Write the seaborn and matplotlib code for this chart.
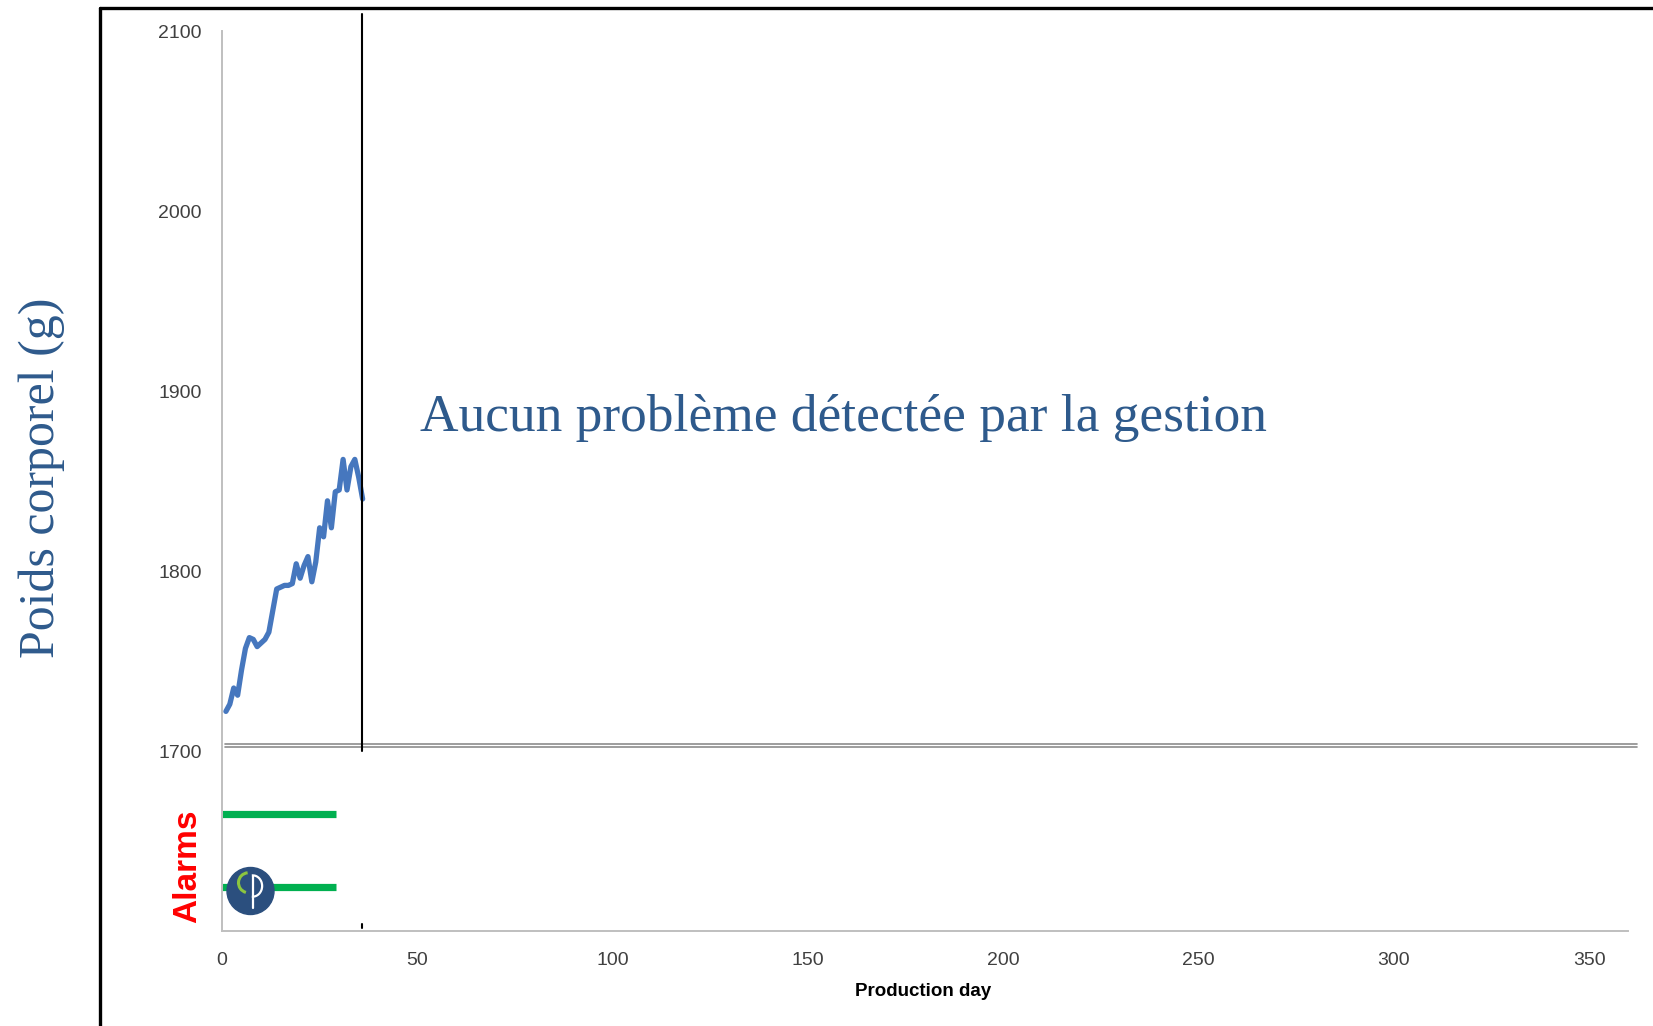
"""Body weight chart with alarm bands."""

import matplotlib.pyplot as plt
import pandas as pd
import seaborn as sns
from matplotlib.lines import Line2D
from matplotlib.patches import Arc, Circle

# Data
days = list(range(1, 37))
weight = [1722, 1726, 1735, 1731, 1745, 1757, 1763, 1762, 1758, 1760,
          1762, 1766, 1778, 1790, 1791, 1792, 1792, 1793, 1804, 1796,
          1803, 1808, 1794, 1805, 1824, 1819, 1839, 1824, 1844, 1845,
          1862, 1845, 1858, 1862, 1852, 1840]
alarm_days = [0, 29.2]
alarm_levels = [1665, 1624.5]
marker_day = 35.9
baseline_levels = [1704.1, 1702.2]
baseline_days = [0.8, 362.3]
x_ticks = [0, 50, 100, 150, 200, 250, 300, 350]
y_ticks = [1700, 1800, 1900, 2000, 2100]

TITLE_BLUE = "#2E5A8C"
SERIES_BLUE = "#4677BE"
GREEN = "#00B050"
AXIS_GRAY = "#BFBFBF"
TICK_TEXT = "#404040"

sns.set_style("white")
plt.rcParams["font.family"] = ["Liberation Sans", "DejaVu Sans"]

fig = plt.figure(figsize=(16.53, 10.26), dpi=100)
W, H = 1653, 1026
ax = fig.add_axes([222 / W, 1 - 931 / H, (1628.3 - 222) / W, (931 - 31) / H])

df = pd.DataFrame({"day": days, "weight": weight})
sns.lineplot(data=df, x="day", y="weight", ax=ax, color=SERIES_BLUE,
             linewidth=3.8, solid_joinstyle="round", solid_capstyle="round")

# double gray reference line
for lvl in baseline_levels:
    ax.plot(baseline_days, [lvl, lvl], color="#8C8C8C", linewidth=1.2,
            clip_on=False)

# alarm bands
for lvl in alarm_levels:
    ax.plot(alarm_days, [lvl, lvl], color=GREEN, linewidth=5.2,
            solid_capstyle="butt")

# current-day marker
ax.plot([marker_day, marker_day], [1700, 2109.5], color="black",
        linewidth=1.5, clip_on=False)
ax.plot([marker_day, marker_day], [1601.5, 1604], color="black", linewidth=1.5)

ax.text(50.8, 1878, "Aucun problème détectée par la gestion",
        fontsize=38.4, color=TITLE_BLUE, va="baseline", ha="left",
        family=["Liberation Serif", "DejaVu Serif"])

ax.set_xlim(0, 360)
ax.set_ylim(1600, 2100)
ax.set_xticks(x_ticks)
ax.set_yticks(y_ticks)
ax.set_xlabel("")
ax.set_ylabel("")
ax.tick_params(axis="both", which="both", direction="out", colors=AXIS_GRAY,
               labelcolor=TICK_TEXT, labelsize=14, width=1)
ax.tick_params(axis="x", length=5.3, pad=10)
ax.tick_params(axis="y", length=5.5, pad=9.2)

for side in ["top", "right"]:
    ax.spines[side].set_visible(False)
for side in ["left", "bottom"]:
    ax.spines[side].set_color(AXIS_GRAY)
    ax.spines[side].set_linewidth(1.4)
ax.spines["left"].set_bounds(1600, 2100)

# figure texts
fig.text(923 / W, 1 - 991 / H, "Production day", fontsize=13.5,
         fontweight="bold", color="black", ha="center", va="center")
fig.text(41.5 / W, 1 - 478 / H, "Poids corporel (g)", fontsize=36,
         color=TITLE_BLUE, rotation=90, ha="center", va="center",
         family=["Liberation Serif", "DejaVu Serif"])
fig.text(188 / W, 1 - 866.5 / H, "Alarms", fontsize=24, fontweight="bold",
         color="#FF0000", rotation=90, ha="center", va="center")

# black frame on left and top
fig.add_artist(Line2D([100 / W, 100 / W], [0, 1 - 8 / H], color="black",
                      linewidth=2.4, transform=fig.transFigure))
fig.add_artist(Line2D([100 / W, 1], [1 - 8 / H, 1 - 8 / H], color="black",
                      linewidth=2.4, transform=fig.transFigure))

# logo
logo = fig.add_axes([(250.5 - 25) / W, 1 - (891 + 25) / H, 50 / W, 50 / H])
logo.set_xlim(-1, 1)
logo.set_ylim(-1, 1)
logo.axis("off")
logo.add_patch(Circle((0, 0), 0.94, color="#2B4F7E"))
logo.add_patch(Arc((-0.08, 0.33), 0.8, 0.8, theta1=95, theta2=255,
                   color="#8CC63F", linewidth=2.2))
logo.plot([0.09, 0.09], [0.6, -0.68], color="white", linewidth=1.6)
logo.add_patch(Arc((0.09, 0.2), 0.75, 0.85, theta1=-95, theta2=95,
                   color="white", linewidth=1.6))

plt.savefig("out.png", dpi=100)
